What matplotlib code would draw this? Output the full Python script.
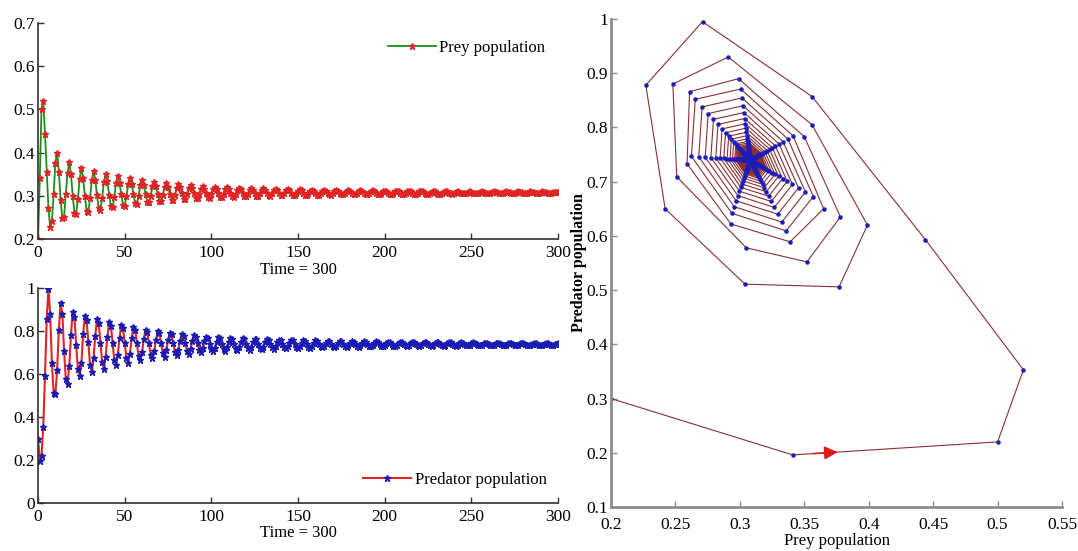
import numpy as np
import matplotlib.pyplot as plt
from matplotlib.ticker import FormatStrFormatter

plt.rcParams['font.family'] = ['Liberation Serif', 'DejaVu Serif']
plt.rcParams['font.size'] = 12

# prey / predator densities, one value per time step (t = 0 .. 300)
prey = [0.200, 0.341, 0.500, 0.520, 0.444, 0.356, 0.271,
        0.227, 0.242, 0.304, 0.377, 0.399, 0.356, 0.291,
        0.248, 0.251, 0.305, 0.352, 0.378, 0.350, 0.299,
        0.261, 0.259, 0.293, 0.339, 0.365,
        0.3413, 0.3006, 0.2654, 0.2624, 0.2938, 0.3359, 0.3570,
        0.3372, 0.3016, 0.2707, 0.2681, 0.2956, 0.3325, 0.3509,
        0.3335, 0.3024, 0.2754, 0.2731, 0.2971, 0.3294, 0.3455,
        0.3303, 0.3031, 0.2795, 0.2775, 0.2985, 0.3267, 0.3408,
        0.3275, 0.3037, 0.2830, 0.2813, 0.2997, 0.3244, 0.3367,
        0.3251, 0.3042, 0.2862, 0.2847, 0.3007, 0.3223, 0.3331,
        0.3230, 0.3047, 0.2889, 0.2875, 0.3016, 0.3205, 0.3300,
        0.3211, 0.3051, 0.2913, 0.2901, 0.3024, 0.3189, 0.3272,
        0.3194, 0.3055, 0.2934, 0.2924, 0.3031, 0.3176, 0.3248,
        0.3180, 0.3058, 0.2952, 0.2943, 0.3037, 0.3164, 0.3227,
        0.3168, 0.3061, 0.2968, 0.2960, 0.3043, 0.3154, 0.3209,
        0.3160, 0.3062, 0.2977, 0.2970, 0.3046, 0.3147, 0.3198,
        0.3153, 0.3064, 0.2986, 0.2980, 0.3049, 0.3142, 0.3188,
        0.3147, 0.3065, 0.2994, 0.2988, 0.3051, 0.3136, 0.3179,
        0.3142, 0.3066, 0.3001, 0.2995, 0.3054, 0.3132, 0.3171,
        0.3136, 0.3068, 0.3008, 0.3003, 0.3056, 0.3127, 0.3163,
        0.3132, 0.3069, 0.3014, 0.3009, 0.3058, 0.3123, 0.3156,
        0.3128, 0.3069, 0.3019, 0.3015, 0.3060, 0.3120, 0.3150,
        0.3124, 0.3070, 0.3023, 0.3020, 0.3061, 0.3117, 0.3145,
        0.3121, 0.3071, 0.3028, 0.3024, 0.3063, 0.3114, 0.3140,
        0.3118, 0.3072, 0.3031, 0.3028, 0.3064, 0.3112, 0.3136,
        0.3115, 0.3072, 0.3035, 0.3032, 0.3065, 0.3110, 0.3132,
        0.3113, 0.3073, 0.3038, 0.3035, 0.3066, 0.3107, 0.3128,
        0.3111, 0.3073, 0.3041, 0.3038, 0.3067, 0.3106, 0.3125,
        0.3109, 0.3074, 0.3043, 0.3041, 0.3068, 0.3104, 0.3122,
        0.3107, 0.3074, 0.3046, 0.3044, 0.3069, 0.3102, 0.3119,
        0.3105, 0.3074, 0.3048, 0.3046, 0.3069, 0.3101, 0.3117,
        0.3104, 0.3075, 0.3050, 0.3047, 0.3070, 0.3100, 0.3115,
        0.3102, 0.3075, 0.3051, 0.3049, 0.3070, 0.3099, 0.3113,
        0.3101, 0.3075, 0.3053, 0.3051, 0.3071, 0.3098, 0.3111,
        0.3100, 0.3076, 0.3055, 0.3053, 0.3072, 0.3097, 0.3109,
        0.3098, 0.3076, 0.3057, 0.3055, 0.3072, 0.3095, 0.3107,
        0.3098, 0.3076, 0.3057, 0.3056, 0.3072, 0.3095, 0.3106,
        0.3096, 0.3076, 0.3059, 0.3058, 0.3073, 0.3094, 0.3104,
        0.3096, 0.3077, 0.3060, 0.3059, 0.3073, 0.3093, 0.3103,
        0.3095, 0.3077, 0.3061, 0.3060, 0.3074, 0.3093, 0.3102,
        0.3094, 0.3077, 0.3062, 0.3060, 0.3074, 0.3092, 0.3101,
        0.3094, 0.3077, 0.3063, 0.3061, 0.3074, 0.3091, 0.3100,
        0.3093, 0.3077, 0.3063, 0.3062, 0.3074, 0.3091, 0.3099,
        0.3092, 0.3077]

predator = [0.300, 0.196, 0.220, 0.353, 0.593, 0.857, 0.995,
            0.878, 0.650, 0.511, 0.506, 0.620, 0.805, 0.930,
            0.880, 0.709, 0.578, 0.552, 0.635, 0.783, 0.890,
            0.866, 0.733, 0.622, 0.589, 0.650,
            0.7845, 0.8708, 0.8519, 0.7467, 0.6416, 0.6092, 0.6726,
            0.7789, 0.8545, 0.8379, 0.7459, 0.6539, 0.6255, 0.6810,
            0.7740, 0.8400, 0.8256, 0.7452, 0.6647, 0.6400, 0.6884,
            0.7698, 0.8275, 0.8149, 0.7445, 0.6742, 0.6525, 0.6949,
            0.7660, 0.8165, 0.8055, 0.7439, 0.6824, 0.6635, 0.7005,
            0.7628, 0.8069, 0.7973, 0.7435, 0.6896, 0.6731, 0.7055,
            0.7600, 0.7987, 0.7902, 0.7430, 0.6958, 0.6813, 0.7097,
            0.7574, 0.7912, 0.7838, 0.7426, 0.7015, 0.6888, 0.7136,
            0.7552, 0.7848, 0.7783, 0.7423, 0.7063, 0.6952, 0.7169,
            0.7533, 0.7792, 0.7735, 0.7420, 0.7105, 0.7008, 0.7198,
            0.7517, 0.7744, 0.7695, 0.7418, 0.7141, 0.7056, 0.7222,
            0.7507, 0.7715, 0.7670, 0.7416, 0.7163, 0.7085, 0.7237,
            0.7498, 0.7688, 0.7647, 0.7415, 0.7183, 0.7112, 0.7251,
            0.7490, 0.7664, 0.7626, 0.7414, 0.7201, 0.7136, 0.7264,
            0.7483, 0.7643, 0.7608, 0.7413, 0.7217, 0.7157, 0.7275,
            0.7475, 0.7621, 0.7589, 0.7411, 0.7234, 0.7179, 0.7286,
            0.7469, 0.7603, 0.7573, 0.7410, 0.7247, 0.7197, 0.7295,
            0.7464, 0.7587, 0.7560, 0.7410, 0.7259, 0.7213, 0.7303,
            0.7459, 0.7574, 0.7549, 0.7409, 0.7269, 0.7226, 0.7310,
            0.7454, 0.7560, 0.7537, 0.7408, 0.7280, 0.7240, 0.7317,
            0.7451, 0.7549, 0.7528, 0.7408, 0.7288, 0.7251, 0.7323,
            0.7447, 0.7539, 0.7519, 0.7407, 0.7296, 0.7261, 0.7328,
            0.7444, 0.7528, 0.7510, 0.7407, 0.7304, 0.7272, 0.7334,
            0.7441, 0.7520, 0.7503, 0.7406, 0.7309, 0.7280, 0.7338,
            0.7438, 0.7513, 0.7496, 0.7406, 0.7315, 0.7287, 0.7342,
            0.7435, 0.7504, 0.7489, 0.7405, 0.7322, 0.7296, 0.7346,
            0.7434, 0.7499, 0.7485, 0.7405, 0.7326, 0.7301, 0.7349,
            0.7432, 0.7493, 0.7480, 0.7405, 0.7330, 0.7307, 0.7352,
            0.7430, 0.7488, 0.7476, 0.7405, 0.7334, 0.7312, 0.7354,
            0.7428, 0.7482, 0.7471, 0.7404, 0.7338, 0.7318, 0.7357,
            0.7426, 0.7478, 0.7466, 0.7404, 0.7342, 0.7322, 0.7360,
            0.7424, 0.7472, 0.7461, 0.7404, 0.7346, 0.7328, 0.7363,
            0.7424, 0.7470, 0.7460, 0.7404, 0.7347, 0.7330, 0.7364,
            0.7422, 0.7464, 0.7455, 0.7403, 0.7352, 0.7336, 0.7367,
            0.7421, 0.7461, 0.7452, 0.7403, 0.7354, 0.7339, 0.7368,
            0.7420, 0.7459, 0.7451, 0.7403, 0.7355, 0.7341, 0.7369,
            0.7419, 0.7456, 0.7448, 0.7403, 0.7358, 0.7344, 0.7371,
            0.7418, 0.7453, 0.7446, 0.7403, 0.7360, 0.7347, 0.7372,
            0.7417, 0.7450, 0.7443, 0.7403, 0.7362, 0.7350, 0.7374,
            0.7417, 0.7449]

time = np.arange(len(prey))

time_ticks = [0, 50, 100, 150, 200, 250, 300]
prey_ticks = [0.2, 0.3, 0.4, 0.5, 0.6, 0.7]
pred_ticks = [0, 0.2, 0.4, 0.6, 0.8, 1]
phase_xticks = [0.2, 0.25, 0.3, 0.35, 0.4, 0.45, 0.5, 0.55]
phase_yticks = [0.1, 0.2, 0.3, 0.4, 0.5, 0.6, 0.7, 0.8, 0.9, 1]


def style_axes(ax, spine_color='#303030', spine_width=1.2, xpad=4):
    ax.spines['top'].set_visible(False)
    ax.spines['right'].set_visible(False)
    for s in ('left', 'bottom'):
        ax.spines[s].set_color(spine_color)
        ax.spines[s].set_linewidth(spine_width)
    ax.tick_params(direction='in', length=4, width=1, color=spine_color,
                   labelsize=12.5)
    ax.tick_params(axis='x', pad=xpad)
    ax.tick_params(axis='y', pad=2)
    ax.xaxis.set_major_formatter(FormatStrFormatter('%g'))
    ax.yaxis.set_major_formatter(FormatStrFormatter('%g'))


fig = plt.figure(figsize=(10.78, 5.51), dpi=100)

# prey vs time
ax1 = fig.add_axes([0.0353, 0.5662, 0.4824, 0.3921])
ax1.plot(time, prey, '-', color='#1d8c1d', lw=1.3, marker='*', ms=5,
         mfc='#e02424', mec='#e02424', label='Prey population')
ax1.set_xlim(0, 300)
ax1.set_ylim(0.2, 0.7)
ax1.set_xticks(time_ticks)
ax1.set_yticks(prey_ticks)
ax1.set_xlabel('Time = 300', labelpad=1)
style_axes(ax1)
ax1.legend(loc='center left', bbox_to_anchor=(0.672, 0.885), frameon=False,
           borderaxespad=0, borderpad=0, handlelength=2.9, handletextpad=0.2)

# predator vs time
ax2 = fig.add_axes([0.0353, 0.0871, 0.4824, 0.3902])
ax2.plot(time, predator, '-', color='#e02424', lw=1.5, marker='*', ms=5,
         mfc='#1a1ab4', mec='#1a1ab4', label='Predator population')
ax2.set_xlim(0, 300)
ax2.set_ylim(0, 1)
ax2.set_xticks(time_ticks)
ax2.set_yticks(pred_ticks)
ax2.set_xlabel('Time = 300', labelpad=0)
style_axes(ax2)
ax2.legend(loc='center left', bbox_to_anchor=(0.625, 0.107), frameon=False,
           borderaxespad=0, borderpad=0, handlelength=2.9, handletextpad=0.2)

# phase portrait
ax3 = fig.add_axes([0.5668, 0.0799, 0.4184, 0.8856])
ax3.plot(prey, predator, '-', color='#8a3030', lw=0.8, marker='.', ms=4.5,
         mfc='#1c1cb8', mec='#1c1cb8')
# direction arrow on the first leg of the orbit
f0, f1 = 0.10, 0.22
p0 = (prey[1] + f0 * (prey[2] - prey[1]), predator[1] + f0 * (predator[2] - predator[1]))
p1 = (prey[1] + f1 * (prey[2] - prey[1]), predator[1] + f1 * (predator[2] - predator[1]))
ax3.annotate('', xy=p1, xytext=p0,
             arrowprops=dict(arrowstyle='-|>', color='#e01818', lw=1.2,
                             mutation_scale=20, shrinkA=0, shrinkB=0))
ax3.set_xlim(0.2, 0.55)
ax3.set_ylim(0.1, 1)
ax3.set_xticks(phase_xticks)
ax3.set_yticks(phase_yticks)
style_axes(ax3, spine_color='#8c8c8c', spine_width=2, xpad=7)
ax3.set_xlabel('Prey population', labelpad=0)
ax3.set_ylabel('Predator population', fontweight='bold', fontsize=11.5,
               labelpad=0)

fig.savefig('out.png', dpi=100)
